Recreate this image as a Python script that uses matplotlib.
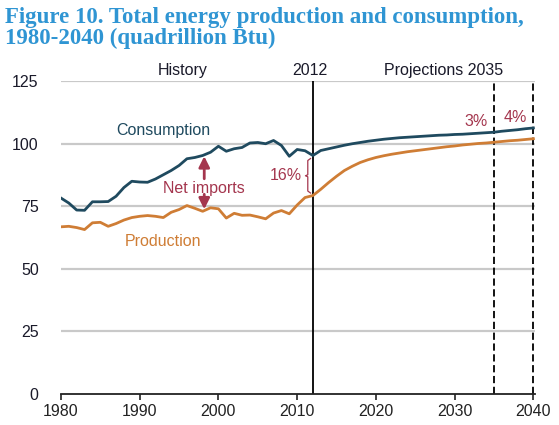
import numpy as np
import matplotlib
matplotlib.use("Agg")
import matplotlib.pyplot as plt

# data (quadrillion Btu)
years = list(range(1980, 2041))
consumption = [78.3, 76.3, 73.5, 73.4, 76.8, 76.8, 76.9, 79.0, 82.5, 85.0,
               84.7, 84.6, 85.9, 87.6, 89.3, 91.3, 94.0, 94.5, 95.3, 96.6,
               99.0, 97.0, 98.0, 98.5, 100.3, 100.5, 100.0, 101.3, 99.3, 95.0,
               97.7, 97.2, 95.3,
               97.3, 98.0, 98.7, 99.4, 100.0, 100.5, 101.0, 101.4, 101.8, 102.1,
               102.4, 102.6, 102.8, 103.0, 103.2, 103.4, 103.5, 103.7, 103.8, 104.0,
               104.2, 104.4, 104.6, 105.0, 105.3, 105.6, 106.0, 106.3]
production = [66.8, 67.0, 66.5, 65.7, 68.4, 68.6, 67.0, 68.1, 69.5, 70.5,
              71.0, 71.3, 71.0, 70.5, 72.6, 73.7, 75.3, 74.2, 73.0, 74.4,
              74.0, 70.3, 72.2, 71.4, 71.5, 70.8, 70.0, 72.3, 73.3, 72.0,
              75.5, 78.5, 79.3,
              81.8, 84.5, 87.0, 89.3, 91.0, 92.5, 93.6, 94.5, 95.2, 95.8,
              96.3, 96.8, 97.2, 97.6, 98.0, 98.4, 98.8, 99.1, 99.5, 99.8,
              100.1, 100.3, 100.6, 100.9, 101.2, 101.4, 101.7, 102.0]
x_ticks = [1980, 1990, 2000, 2010, 2020, 2030, 2040]
y_ticks = [0, 25, 50, 75, 100, 125]
last_hist = 2012
markers = [2035, 2040]
shares = {2035: "3%", 2040: "4%"}

c_cons = "#1f4a5f"
c_prod = "#cf7d35"
c_note = "#a4364e"
c_title = "#2f95d3"

plt.rcParams['font.family'] = ['Liberation Sans', 'DejaVu Sans']

fig = plt.figure(figsize=(5.59, 4.25), dpi=100)
ax = fig.add_axes([0.109, 0.073, 0.848, 0.736])

for v in y_ticks[1:]:
    ax.axhline(v, color="#c9c9c9", lw=1.6, zorder=1)

ax.plot(years, consumption, color=c_cons, lw=2, zorder=3)
ax.plot(years, production, color=c_prod, lw=2, zorder=3)

ax.axvline(last_hist, color="black", lw=1.3, zorder=2)
for m in markers:
    ax.axvline(m, color="black", lw=1.3, ls=(0, (4, 2)), zorder=2)

ax.set_xlim(1980, 2040.2)
ax.set_ylim(0, 125)
ax.set_xticks(x_ticks)
ax.set_yticks(y_ticks)
for s in ["top", "right", "left"]:
    ax.spines[s].set_visible(False)
ax.spines["bottom"].set_color("#222222")
ax.spines["bottom"].set_linewidth(1.3)
ax.tick_params(axis="x", direction="out", length=4, width=1.2, colors="#222222",
               labelsize=11.5, pad=3)
ax.tick_params(axis="y", length=0, labelsize=11.5, pad=16, colors="#1a1a2a")

# header labels above plot
ax.text(1995.4, 126.2, "History", ha="center", va="bottom", fontsize=11.5, color="#1a1a2a")
ax.text(2011.6, 126.2, "2012", ha="center", va="bottom", fontsize=11.5, color="#1a1a2a")
ax.text(2028.6, 126.2, "Projections 2035", ha="center", va="bottom", fontsize=11.5,
        color="#1a1a2a")

ax.text(1993.0, 105.4, "Consumption", ha="center", va="center", fontsize=11.5, color=c_cons)
ax.text(1993.0, 61.0, "Production", ha="center", va="center", fontsize=11.5, color=c_prod)

# net imports arrows at 1998
i98 = years.index(1998)
ax.text(1998.2, 82.3, "Net imports", ha="center", va="center", fontsize=11.5, color=c_note)
ax.annotate("", xy=(1998.2, consumption[i98] - 0.3), xytext=(1998.2, 86.0),
            arrowprops=dict(arrowstyle="-|>", color=c_note, lw=2, mutation_scale=16,
                            shrinkA=0, shrinkB=0))
ax.annotate("", xy=(1998.2, production[i98] + 0.8), xytext=(1998.2, 79.8),
            arrowprops=dict(arrowstyle="-|>", color=c_note, lw=2, mutation_scale=16,
                            shrinkA=0, shrinkB=0))

# 16% brace at 2012
i12 = years.index(last_hist)
top, bot = consumption[i12] - 1.2, production[i12] + 1.0
mid = (top + bot) / 2
bx = 2011.35
ax.plot([bx + 0.35, bx, bx, bx - 0.3, bx, bx, bx + 0.35],
        [top, top - 0.8, mid + 0.4, mid, mid - 0.4, bot + 0.8, bot],
        color=c_note, lw=0.9, zorder=3)
ax.text(2010.6, mid, "16%", ha="right", va="center", fontsize=11.5, color=c_note)

for m in markers:
    im = years.index(m)
    ax.text(m - 2.3, consumption[im] + 1.3, shares[m], ha="center", va="bottom",
            fontsize=11.5, color=c_note)

fig.text(0.009, 0.984, "Figure 10. Total energy production and consumption,\n"
         "1980-2040 (quadrillion Btu)", ha="left", va="top", fontsize=16.5,
         fontweight="bold", family="Liberation Serif", color=c_title, linespacing=1.0)

fig.savefig("out.png", dpi=100)
